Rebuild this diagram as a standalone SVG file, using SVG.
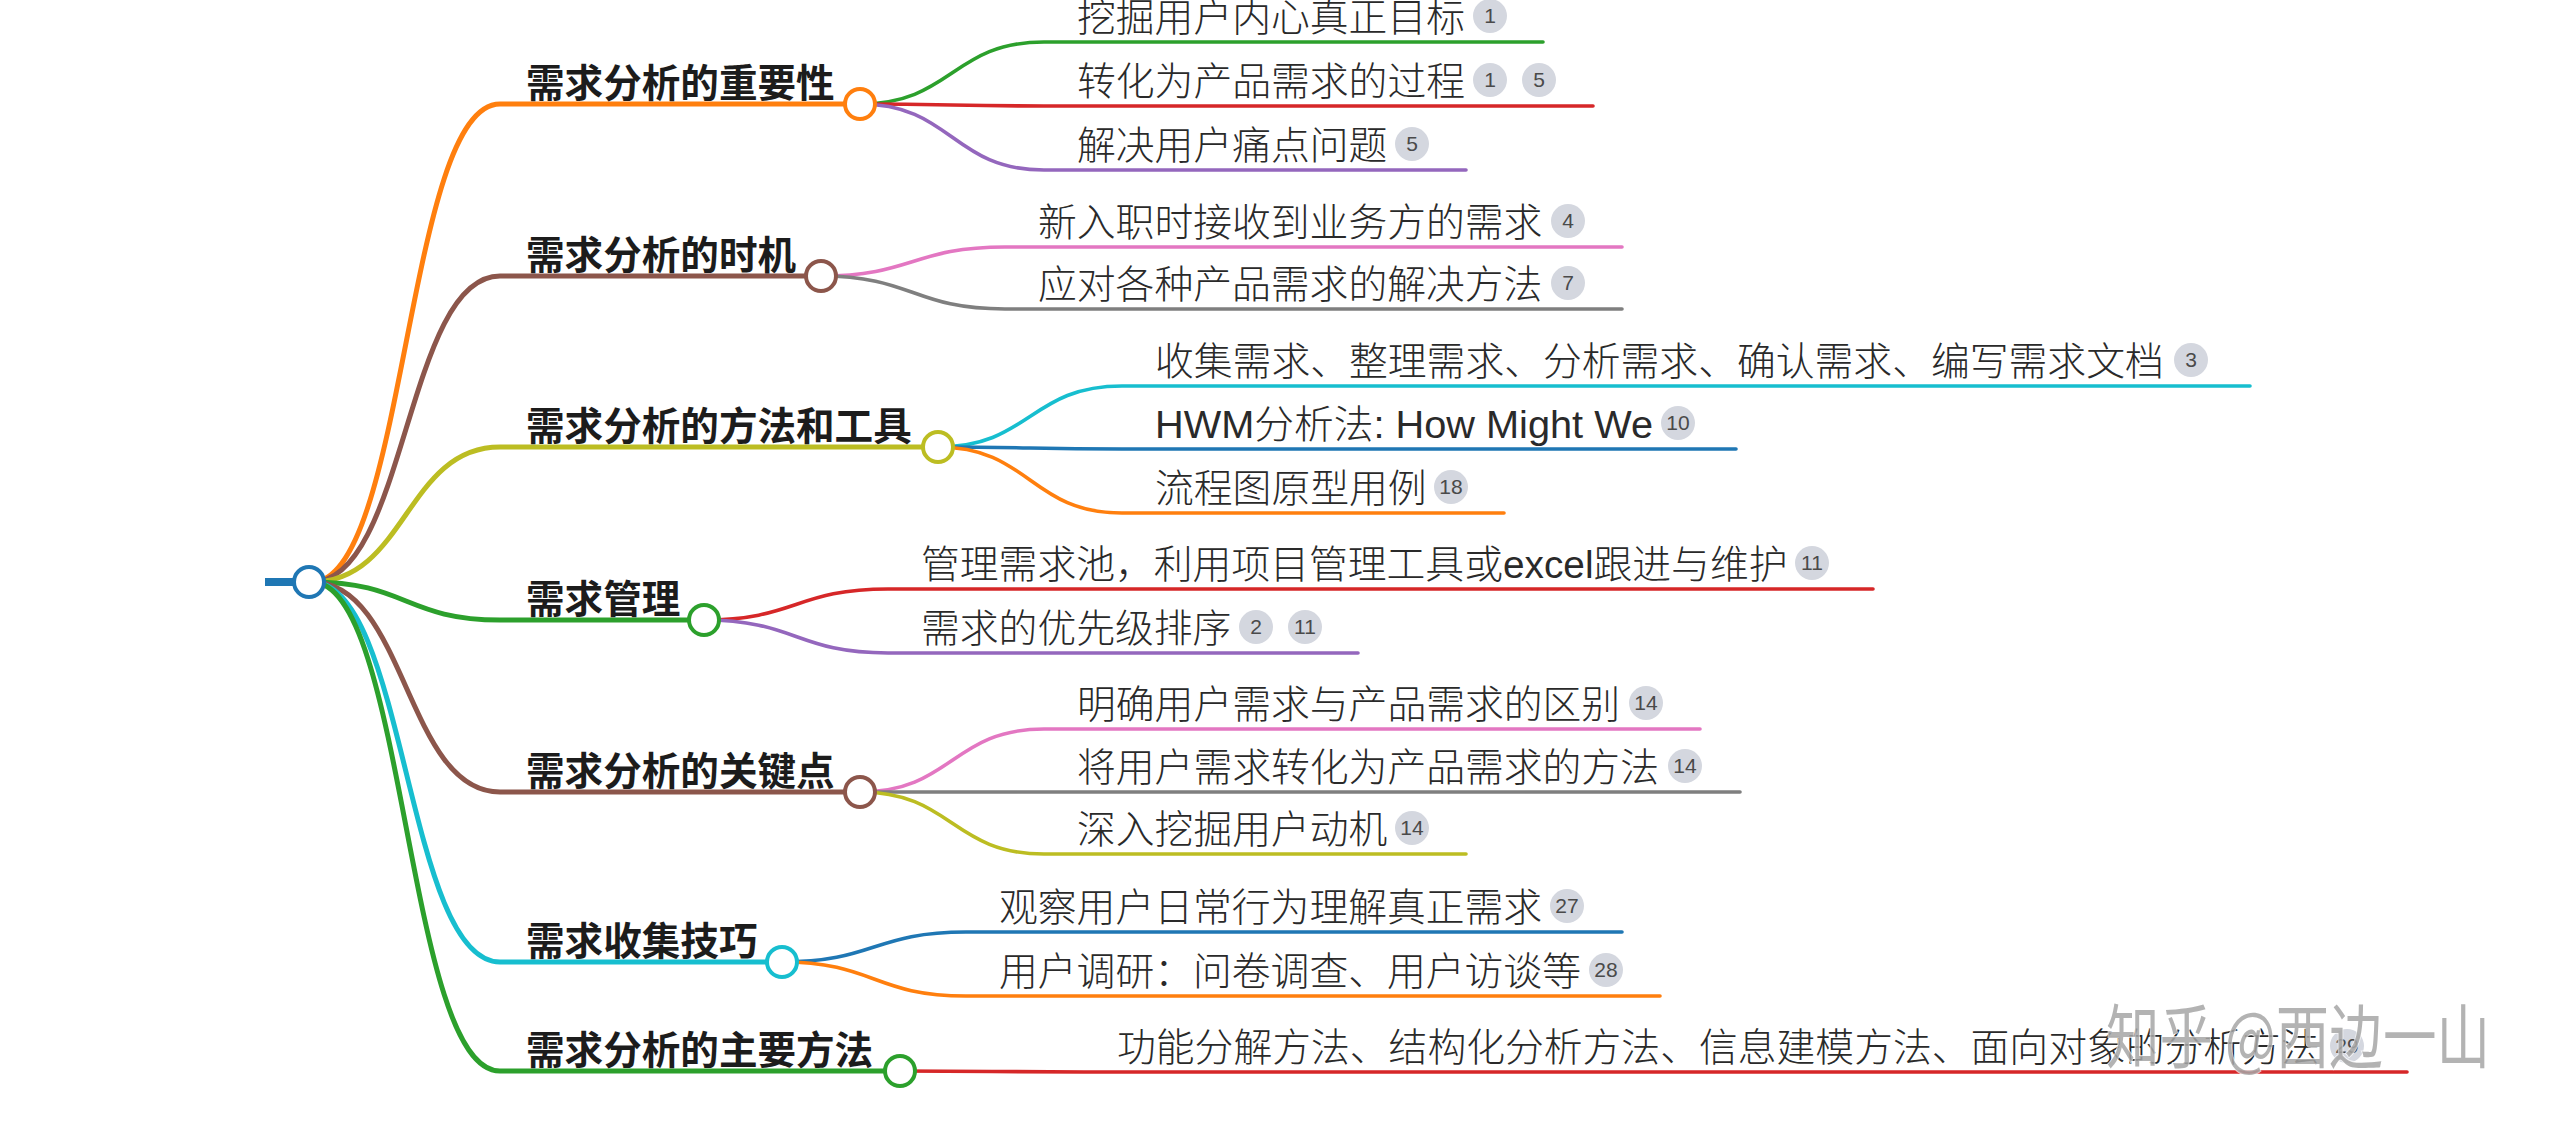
<svg xmlns="http://www.w3.org/2000/svg" width="2560" height="1138" viewBox="0 0 2560 1138">
<style>
.l{fill:none;stroke-linecap:round}
.l1{stroke-width:5}
.l2{stroke-width:3.6}
.c{fill:#fff;stroke-width:4}
.t1{font-family:"Noto Sans CJK SC","Liberation Sans",sans-serif;font-weight:700;font-size:38.6px;fill:#1c1c1c}
.t2{font-family:"Liberation Sans","Noto Sans CJK SC",sans-serif;font-weight:300;font-size:38.8px;fill:#2a2a2a}
.b circle{fill:#d4d7df}
.b text{font-family:"Liberation Sans",sans-serif;font-size:21px;fill:#4a4a4a;text-anchor:middle}
.wm{font-family:"Noto Sans CJK SC","Liberation Sans",sans-serif;font-size:70px;fill:#a6a6a6;fill-opacity:0.85;stroke:#fff;stroke-opacity:0.7;stroke-width:2;paint-order:stroke}
</style>
<rect width="2560" height="1138" fill="#fff"/>
<g id="connectors">
<line x1="265" y1="582" x2="296" y2="582" stroke="#1f77b4" stroke-width="8"/>
<path class="l l1" stroke="#ff7f0e" d="M312 582 C406 582 406 104 500 104 H860"/>
<path class="l l1" stroke="#8c564b" d="M312 582 C406 582 406 276 500 276 H821"/>
<path class="l l1" stroke="#bcbd22" d="M312 582 C406 582 406 447 500 447 H938"/>
<path class="l l1" stroke="#2ca02c" d="M312 582 C406 582 406 620 500 620 H704"/>
<path class="l l1" stroke="#8c564b" d="M312 582 C406 582 406 792 500 792 H860"/>
<path class="l l1" stroke="#17becf" d="M312 582 C406 582 406 962 500 962 H782"/>
<path class="l l1" stroke="#2ca02c" d="M312 582 C406 582 406 1071 500 1071 H900"/>
<path class="l l2" stroke="#2ca02c" d="M860 104 C952 104 952 42 1044 42 H1543"/>
<path class="l l2" stroke="#d62728" d="M860 104 C952 104 952 106 1044 106 H1593"/>
<path class="l l2" stroke="#9467bd" d="M860 104 C952 104 952 170 1044 170 H1466"/>
<path class="l l2" stroke="#e377c2" d="M821 276 C913 276 913 247 1005 247 H1622"/>
<path class="l l2" stroke="#7f7f7f" d="M821 276 C913 276 913 309 1005 309 H1622"/>
<path class="l l2" stroke="#17becf" d="M938 447 C1030 447 1030 386 1122 386 H2250"/>
<path class="l l2" stroke="#1f77b4" d="M938 447 C1030 447 1030 449 1122 449 H1736"/>
<path class="l l2" stroke="#ff7f0e" d="M938 447 C1030 447 1030 513 1122 513 H1504"/>
<path class="l l2" stroke="#d62728" d="M704 620 C796 620 796 589 888 589 H1873"/>
<path class="l l2" stroke="#9467bd" d="M704 620 C796 620 796 653 888 653 H1358"/>
<path class="l l2" stroke="#e377c2" d="M860 792 C952 792 952 729 1044 729 H1700"/>
<path class="l l2" stroke="#7f7f7f" d="M860 792 C952 792 952 792 1044 792 H1740"/>
<path class="l l2" stroke="#bcbd22" d="M860 792 C952 792 952 854 1044 854 H1466"/>
<path class="l l2" stroke="#1f77b4" d="M782 962 C874 962 874 932 966 932 H1622"/>
<path class="l l2" stroke="#ff7f0e" d="M782 962 C874 962 874 996 966 996 H1660"/>
<path class="l l2" stroke="#d62728" d="M900 1071 C992 1071 992 1072 1084 1072 H2407"/>
</g>
<g id="root"><circle class="c" cx="309" cy="582" r="15" stroke="#1f77b4"/></g>
<g id="n-a"><text class="t1" x="526" y="97">需求分析的重要性</text><circle class="c" cx="860" cy="104" r="15" stroke="#ff7f0e"/></g>
<g id="n-b"><text class="t1" x="526" y="269">需求分析的时机</text><circle class="c" cx="821" cy="276" r="15" stroke="#8c564b"/></g>
<g id="n-c"><text class="t1" x="526" y="440">需求分析的方法和工具</text><circle class="c" cx="938" cy="447" r="15" stroke="#bcbd22"/></g>
<g id="n-d"><text class="t1" x="526" y="613">需求管理</text><circle class="c" cx="704" cy="620" r="15" stroke="#2ca02c"/></g>
<g id="n-e"><text class="t1" x="526" y="785">需求分析的关键点</text><circle class="c" cx="860" cy="792" r="15" stroke="#8c564b"/></g>
<g id="n-f"><text class="t1" x="526" y="955">需求收集技巧</text><circle class="c" cx="782" cy="962" r="15" stroke="#17becf"/></g>
<g id="n-g"><text class="t1" x="526" y="1064">需求分析的主要方法</text><circle class="c" cx="900" cy="1071" r="15" stroke="#2ca02c"/></g>
<g id="n-a1"><text class="t2" x="1077" y="31">挖掘用户内心真正目标</text><g class="b"><circle cx="1490" cy="16" r="17"/><text x="1490" y="23">1</text></g></g>
<g id="n-a2"><text class="t2" x="1077" y="95">转化为产品需求的过程</text><g class="b"><circle cx="1490" cy="80" r="17"/><text x="1490" y="87">1</text><circle cx="1539" cy="80" r="17"/><text x="1539" y="87">5</text></g></g>
<g id="n-a3"><text class="t2" x="1077" y="159">解决用户痛点问题</text><g class="b"><circle cx="1412" cy="144" r="17"/><text x="1412" y="151">5</text></g></g>
<g id="n-b1"><text class="t2" x="1038" y="236">新入职时接收到业务方的需求</text><g class="b"><circle cx="1568" cy="221" r="17"/><text x="1568" y="228">4</text></g></g>
<g id="n-b2"><text class="t2" x="1038" y="298">应对各种产品需求的解决方法</text><g class="b"><circle cx="1568" cy="283" r="17"/><text x="1568" y="290">7</text></g></g>
<g id="n-c1"><text class="t2" x="1155" y="375">收集需求、整理需求、分析需求、确认需求、编写需求文档</text><g class="b"><circle cx="2191" cy="360" r="17"/><text x="2191" y="367">3</text></g></g>
<g id="n-c2"><text class="t2" x="1155" y="438" textLength="498" lengthAdjust="spacingAndGlyphs">HWM分析法: How Might We</text><g class="b"><circle cx="1678" cy="423" r="17"/><text x="1678" y="430">10</text></g></g>
<g id="n-c3"><text class="t2" x="1155" y="502">流程图原型用例</text><g class="b"><circle cx="1451" cy="487" r="17"/><text x="1451" y="494">18</text></g></g>
<g id="n-d1"><text class="t2" x="921" y="578">管理需求池，利用项目管理工具或excel跟进与维护</text><g class="b"><circle cx="1812" cy="563" r="17"/><text x="1812" y="570">11</text></g></g>
<g id="n-d2"><text class="t2" x="921" y="642">需求的优先级排序</text><g class="b"><circle cx="1256" cy="627" r="17"/><text x="1256" y="634">2</text><circle cx="1305" cy="627" r="17"/><text x="1305" y="634">11</text></g></g>
<g id="n-e1"><text class="t2" x="1077" y="718">明确用户需求与产品需求的区别</text><g class="b"><circle cx="1646" cy="703" r="17"/><text x="1646" y="710">14</text></g></g>
<g id="n-e2"><text class="t2" x="1077" y="781">将用户需求转化为产品需求的方法</text><g class="b"><circle cx="1685" cy="766" r="17"/><text x="1685" y="773">14</text></g></g>
<g id="n-e3"><text class="t2" x="1077" y="843">深入挖掘用户动机</text><g class="b"><circle cx="1412" cy="828" r="17"/><text x="1412" y="835">14</text></g></g>
<g id="n-f1"><text class="t2" x="999" y="921">观察用户日常行为理解真正需求</text><g class="b"><circle cx="1567" cy="906" r="17"/><text x="1567" y="913">27</text></g></g>
<g id="n-f2"><text class="t2" x="999" y="985">用户调研：问卷调查、用户访谈等</text><g class="b"><circle cx="1606" cy="970" r="17"/><text x="1606" y="977">28</text></g></g>
<g id="n-g1"><text class="t2" x="1117" y="1061">功能分解方法、结构化分析方法、信息建模方法、面向对象的分析方法</text><g class="b"><circle cx="2347" cy="1046" r="17"/><text x="2347" y="1053">29</text></g></g>
<text class="wm" x="2106" y="1063" textLength="384" lengthAdjust="spacingAndGlyphs">知乎 @西边一山</text>
</svg>
